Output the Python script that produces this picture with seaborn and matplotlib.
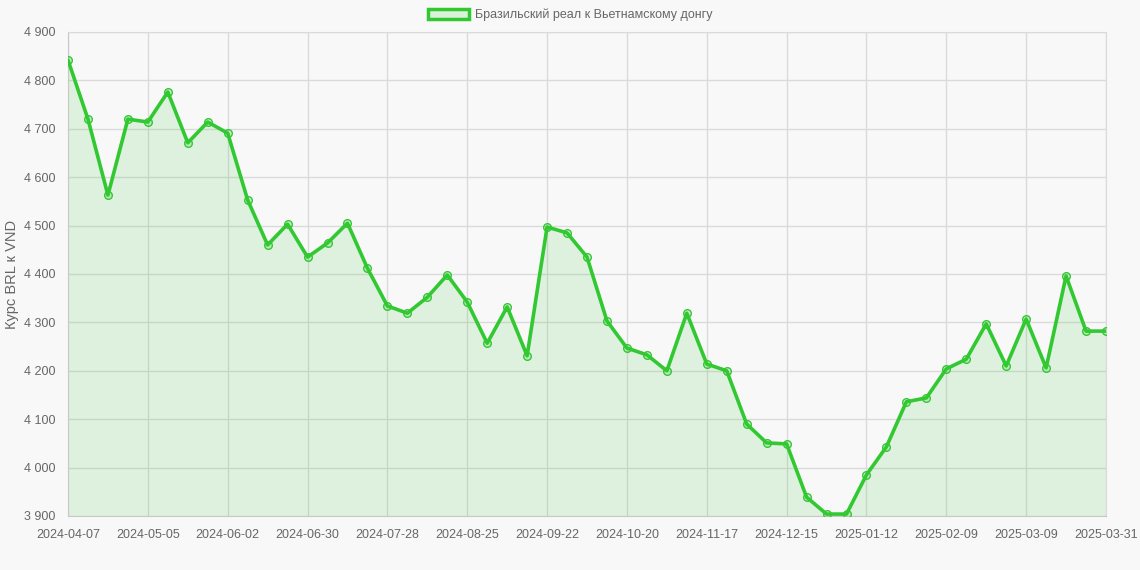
import matplotlib
matplotlib.use("Agg")

import matplotlib.pyplot as plt
import matplotlib.ticker as mticker
import pandas as pd
import seaborn as sns
from matplotlib.patches import Patch


DATES = pd.date_range("2024-04-07", periods=52, freq="7D").strftime("%Y-%m-%d").tolist() + ["2025-03-31"]
RATES = [
    4842, 4720, 4563, 4720, 4714, 4776, 4671, 4714, 4691, 4553,
    4460, 4503, 4435, 4464, 4505, 4412, 4334, 4319, 4352, 4398,
    4342, 4257, 4332, 4231, 4497, 4485, 4435, 4303, 4247, 4233,
    4200, 4319, 4214, 4200, 4090, 4051, 4049, 3939, 3904, 3904,
    3985, 4043, 4136, 4144, 4204, 4224, 4297, 4210, 4307, 4206,
    4396, 4282, 4282,
]
SERIES_LABEL = "Бразильский реал к Вьетнамскому донгу"
Y_LABEL = "Курс BRL к VND"
Y_TICKS = [3900, 4000, 4100, 4200, 4300, 4400, 4500, 4600, 4700, 4800, 4900]

LINE_COLOR = "#32c832"
FILL_COLOR = "#32c832"
BG_COLOR = "#f8f8f8"
GRID_COLOR = "#dadada"
TEXT_COLOR = "#666666"


def main() -> None:
    sns.set_style("white")
    plt.rcParams["font.family"] = ["Liberation Sans", "DejaVu Sans"]

    df = pd.DataFrame({"idx": range(len(DATES)), "date": DATES, "rate": RATES})

    fig = plt.figure(figsize=(11.4, 5.7), dpi=100, facecolor=BG_COLOR)
    ax = fig.add_axes([68 / 1140, 1 - 516 / 570, (1106 - 68) / 1140, (516 - 32) / 570])
    ax.set_facecolor(BG_COLOR)

    ax.fill_between(df["idx"], df["rate"], 3900, color=FILL_COLOR, alpha=0.13, linewidth=0, zorder=1)
    sns.lineplot(
        data=df,
        x="idx",
        y="rate",
        ax=ax,
        color=LINE_COLOR,
        linewidth=2.6,
        marker="o",
        markersize=5.5,
        markerfacecolor=(0.2, 0.8, 0.2, 0.2),
        markeredgecolor=LINE_COLOR,
        markeredgewidth=1.0,
        zorder=3,
    )

    ax.set_xlim(0, len(DATES) - 1)
    ax.set_ylim(3900, 4900)

    tick_idx = list(range(0, len(DATES) - 1, 4)) + [len(DATES) - 1]
    ax.set_xticks(tick_idx)
    ax.set_xticklabels([DATES[i] for i in tick_idx])
    ax.set_yticks(Y_TICKS)
    ax.yaxis.set_major_formatter(mticker.FuncFormatter(lambda v, _: f"{int(v):,}".replace(",", " ")))

    ax.grid(True, color=GRID_COLOR, linewidth=1)
    ax.set_axisbelow(True)
    for side in ["top", "right"]:
        ax.spines[side].set_color(GRID_COLOR)
    for side in ["left", "bottom"]:
        ax.spines[side].set_color("#c8c8c8")

    ax.tick_params(axis="both", length=6, color=GRID_COLOR, labelcolor=TEXT_COLOR, labelsize=9, pad=3)
    ax.set_xlabel("")
    ax.set_ylabel("")
    fig.text(12 / 1140, 1 - 274 / 570, Y_LABEL, rotation=90, ha="center", va="center",
             color=TEXT_COLOR, fontsize=10.5)

    handle = Patch(facecolor=(0.2, 0.8, 0.2, 0.15), edgecolor=LINE_COLOR, linewidth=2.5, label=SERIES_LABEL)
    fig.legend(
        handles=[handle],
        loc="upper center",
        bbox_to_anchor=(0.5, 1.0),
        frameon=False,
        fontsize=9,
        handlelength=3.3,
        handleheight=0.9,
        handletextpad=0.5,
        labelcolor=TEXT_COLOR,
        borderaxespad=0.3,
    )

    fig.savefig("out.png", dpi=100, facecolor=BG_COLOR)
    plt.close(fig)


if __name__ == "__main__":
    main()
